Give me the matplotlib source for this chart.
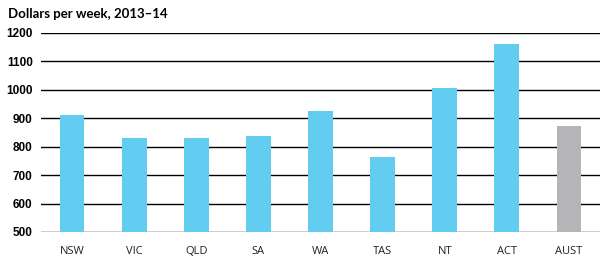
import matplotlib.pyplot as plt
import numpy as np

states = ['NSW', 'VIC', 'QLD', 'SA', 'WA', 'TAS', 'NT', 'ACT', 'AUST']
values = [910, 832, 832, 839, 925, 763, 1007, 1161, 874]
colors = ['#62cdf1'] * 8 + ['#b5b5b7']
yticks = [500, 600, 700, 800, 900, 1000, 1100, 1200]

fig = plt.figure(figsize=(6.05, 2.66), dpi=100)
ax = fig.add_axes([41 / 605, 1 - 232 / 266, 559 / 605, 199 / 266])

x = np.arange(len(states))
ax.bar(x, values, width=0.4, color=colors, zorder=3)
ax.set_xlim(-0.5, len(states) - 0.5)
ax.set_ylim(500, 1200)
ax.set_yticks(yticks)
ax.set_xticks(x)
ax.set_xticklabels(states, fontsize=8, family='Open Sans', color='#222222')
ax.set_yticklabels([str(v) for v in yticks], fontsize=8.5, fontweight='bold',
                   family='Liberation Sans')
for v in yticks:
    ax.axhline(v, color='black', linewidth=1.0, zorder=2)
for s in ax.spines.values():
    s.set_visible(False)
ax.tick_params(length=0, pad=10)
ax.tick_params(axis='y', pad=6)

fig.text(8 / 605, 1 - 14 / 266, 'Dollars per week, 2013–14', fontsize=9.5,
         fontweight='bold', family='Lato', va='center', ha='left')

fig.savefig('out.png', dpi=100)
